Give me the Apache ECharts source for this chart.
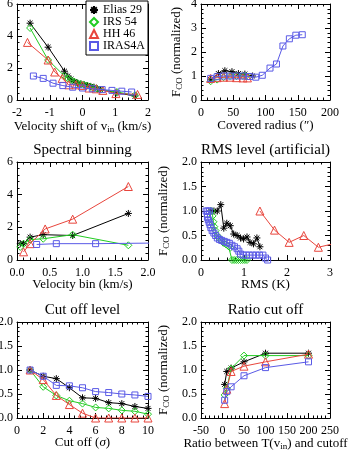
<!DOCTYPE html>
<html>
<head>
<meta charset="utf-8">
<script src="https://cdn.jsdelivr.net/npm/echarts@6/dist/echarts.min.js"></script>
<style>
html,body{margin:0;padding:0;background:#fff;}
#main{width:350px;height:450px;}
</style>
</head>
<body>
<div id="main"></div>
<script>
// sources, in legend order
const sourceNames = ['Elias 29', 'IRS 54', 'HH 46', 'IRAS4A'];

// panel 1: velocity shift of v_in
const shiftTicksX = ['-2', '-1', '0', '1', '2'];
const shiftTicksY = ['0', '2', '4', '6'];
const shiftElias = [[-1.6,4.8],[-1.05,3.3],[-0.55,1.8],[-0.45,1.5],[-0.35,1.3],[-0.25,1.15],[-0.15,1.05],[-0.05,1.0],[0.05,0.95],[0.15,0.9],[0.25,0.85],[0.35,0.8],[0.45,0.7],[0.55,0.65],[1.05,0.45],[1.6,0.25]];
const shiftIrs = [[-1.6,4.5],[-1.05,2.5],[-0.55,1.5],[-0.45,1.35],[-0.35,1.25],[-0.25,1.15],[-0.15,1.05],[-0.05,1.0],[0.05,0.95],[0.15,0.9],[0.25,0.82],[0.35,0.75],[0.45,0.7],[0.55,0.65],[1.05,0.5],[1.6,0.3]];
const shiftHh = [[-1.68,3.6],[-1.05,2.5],[-0.85,1.75],[-0.62,1.35],[-0.42,0.95],[-0.2,0.95],[0,0.9],[0.2,0.75],[0.42,0.7],[0.62,0.6],[1.02,0.4],[1.68,0.35]];
const shiftIras = [[-1.5,1.5],[-1.2,1.35],[-0.9,1.05],[-0.6,0.9],[-0.3,0.8],[0,0.75],[0.3,0.7],[0.6,0.65],[0.9,0.6],[1.2,0.55],[1.5,0.5]];

// panel 2: covered radius
const radiusTicksX = ['0', '50', '100', '150', '200'];
const radiusTicksY = ['0', '1', '2', '3', '4'];
const radiusElias = [[15,0.85],[27,1.1],[37,1.22],[48,1.18],[58,1.1],[68,1.08],[80,1.0]];
const radiusIrs = [[15,0.78],[25,0.85],[35,0.95],[45,1.0],[55,1.0],[65,1.0],[70,1.0]];
const radiusHh = [[15,0.9],[25,0.93],[35,0.95],[45,0.95],[55,0.93],[65,0.92],[72,0.92]];
const radiusIras = [[15,0.9],[25,0.97],[35,1.0],[45,1.0],[55,1.0],[65,1.0],[75,0.98],[85,0.95],[95,1.03],[107,1.33],[117,1.5],[127,2.25],[137,2.55],[147,2.7],[157,2.72]];

// panel 3: spectral binning
const binTicksX = ['0.0', '0.5', '1.0', '1.5', '2.0'];
const binTicksY = ['0', '2', '4', '6'];
const binElias = [[0.05,1.0],[0.1,1.0],[0.2,1.4],[0.4,1.55],[0.85,1.5],[1.7,2.85]];
const binIrs = [[0.05,0.8],[0.1,1.0],[0.2,1.25],[0.4,1.3],[0.85,1.55],[1.7,0.9]];
const binHh = [[0.1,0.5],[0.2,1.0],[0.43,1.9],[0.85,2.5],[1.7,4.5]];
const binIras = [[0.3,0.95],[0.6,1.0],[1.2,1.0],[2.4,1.05]];

// panel 4: RMS level
const rmsTicksX = ['0', '1', '2', '3'];
const rmsTicksY = ['0.0', '0.5', '1.0', '1.5', '2.0'];
const rmsElias = [[0.22,1.0],[0.3,1.0],[0.38,1.0],[0.46,1.13],[0.53,0.65],[0.6,0.75],[0.68,0.7],[0.76,0.53],[0.84,0.5],[0.92,0.45],[0.99,0.43],[1.07,0.47],[1.14,0.36],[1.22,0.33],[1.3,0.45],[1.37,0.27]];
const rmsIrs = [[0.25,1.0],[0.27,0.9],[0.29,0.78],[0.31,0.68],[0.34,0.6],[0.38,0.5],[0.42,0.45],[0.47,0.4],[0.52,0.35],[0.58,0.32],[0.64,0.28],[0.68,0.25],[0.72,0],[0.77,0],[0.82,0],[0.87,0],[0.92,0],[0.97,0],[1.02,0],[1.07,0]];
const rmsHh = [[1.37,1.0],[1.71,0.61],[2.05,0.36],[2.39,0.5],[2.73,0.26],[3.07,0.33]];
const rmsIras = [[0.12,1.0],[0.16,1.0],[0.2,1.0],[0.15,0.93],[0.15,0.87],[0.17,0.82],[0.19,0.77],[0.21,0.72],[0.23,0.66],[0.26,0.6],[0.3,0.55],[0.34,0.5],[0.38,0.45],[0.43,0.42],[0.48,0.4],[0.54,0.38],[0.6,0.36],[0.66,0.34],[0.72,0.3],[0.78,0.27],[0.84,0.23],[0.88,0.18],[0.92,0.12],[0.98,0.1],[1.05,0.1],[1.12,0.1],[1.2,0.1],[1.28,0.1],[1.36,0.1],[1.44,0.1],[1.5,0.04],[1.55,0]];

// panel 5: cut off level
const cutTicksX = ['0', '2', '4', '6', '8', '10'];
const cutTicksY = ['0.0', '0.5', '1.0', '1.5', '2.0'];
const cutElias = [[1,1.0],[2,0.87],[3,0.82],[4,0.63],[5,0.42],[6,0.41],[7,0.32],[8,0.3],[9,0.24],[10,0.2]];
const cutIrs = [[1,1.0],[2,0.65],[3,0.47],[4,0.36],[5,0.3],[6,0.22],[7,0.2],[8,0.16],[9,0.14],[10,0.08]];
const cutHh = [[1,1.0],[2,0.8],[3,0.47],[4,0.28],[5,0.1],[6,0],[7,0],[8,0],[9,0],[10,0]];
const cutIras = [[1,1.0],[2,0.87],[3,0.68],[4,0.67],[5,0.63],[6,0.55],[7,0.53],[8,0.5],[9,0.48],[10,0.45]];

// panel 6: ratio cut off
const ratioTicksX = ['-50', '0', '50', '100', '150', '200', '250'];
const ratioTicksY = ['0.0', '0.5', '1.0', '1.5', '2.0'];
const ratioElias = [[5,0.7],[10,0.97],[20,1.04],[50,1.17],[100,1.35],[200,1.35]];
const ratioIrs = [[5,0.48],[10,0.62],[20,1.03],[50,1.3],[100,1.3],[200,1.3]];
const ratioHh = [[5,0.3],[10,0.6],[20,0.97],[50,1.08],[100,1.17],[200,1.33]];
const ratioIras = [[5,0.37],[10,0.55],[20,0.65],[50,0.88],[100,1.05],[200,1.17]];

const serif = 'Liberation Serif';
const asterisk = 'path://M5 0L5 10M0 5L10 5M1.5 1.5L8.5 8.5M1.5 8.5L8.5 1.5';
const sourceStyle = [
    {symbol: asterisk, color: '#000', size: 7},
    {symbol: 'diamond', color: '#22cc22', size: 7},
    {symbol: 'triangle', color: '#e8453c', size: 8},
    {symbol: 'rect', color: '#5a5ae6', size: 6}
];
const nameRich = {
    sub: {fontFamily: serif, fontSize: 9, color: '#000', padding: [6, 0, 0, 0]},
    it: {fontFamily: serif, fontSize: 13, color: '#000', fontStyle: 'italic'}
};
const fcoName = 'F{sub|CO} (normalized)';

const colLeft = [17, 201], colWidth = [131, 129];
const rowTop = [4, 162, 322], rowHeight = [96, 98, 96];

const panels = [
    {tx: shiftTicksX, ty: shiftTicksY, xName: 'Velocity shift of v{sub|in} (km/s)', yGap: 17, xGap: 19, data: [shiftElias, shiftIrs, shiftHh, shiftIras]},
    {tx: radiusTicksX, ty: radiusTicksY, xName: 'Covered radius (\u2033)', yGap: 17, xGap: 19, data: [radiusElias, radiusIrs, radiusHh, radiusIras]},
    {tx: binTicksX, ty: binTicksY, xName: 'Velocity bin (km/s)', yGap: 17, xGap: 18, title: 'Spectral binning', data: [binElias, binIrs, binHh, binIras]},
    {tx: rmsTicksX, ty: rmsTicksY, xName: 'RMS (K)', yGap: 30, xGap: 18, title: 'RMS level (artificial)', data: [rmsElias, rmsIrs, rmsHh, rmsIras]},
    {tx: cutTicksX, ty: cutTicksY, xName: 'Cut off ({it|\u03c3})', yGap: 30, xGap: 18, title: 'Cut off level', data: [cutElias, cutIrs, cutHh, cutIras]},
    {tx: ratioTicksX, ty: ratioTicksY, xName: 'Ratio between T(v{sub|in}) and cutoff', yGap: 30, xGap: 18, title: 'Ratio cut off', data: [ratioElias, ratioIrs, ratioHh, ratioIras]}
];

function axisFrom(labels, gridIndex, position, showLabel) {
    let nums = labels.map(Number);
    return {
        type: 'value',
        gridIndex: gridIndex,
        position: position,
        min: nums[0],
        max: nums[nums.length - 1],
        interval: nums[1] - nums[0],
        axisLine: {show: true, onZero: false, lineStyle: {color: '#000', width: 1}},
        axisTick: {show: true, inside: true, length: 5, lineStyle: {color: '#000'}},
        minorTick: {show: true, splitNumber: 5, length: 2.5, lineStyle: {color: '#000'}},
        splitLine: {show: false},
        axisLabel: {
            show: showLabel,
            margin: position === 'left' ? 4 : 7,
            fontFamily: serif,
            fontSize: 12,
            color: '#000',
            showMinLabel: true,
            showMaxLabel: true,
            formatter: function (v) {
                let i = nums.findIndex(n => Math.abs(n - v) < 1e-9);
                return i < 0 ? '' : labels[i];
            }
        }
    };
}

let grids = [], xAxes = [], yAxes = [], series = [], titles = [];
panels.forEach(function (p, i) {
    let col = i % 2, row = Math.floor(i / 2);
    grids.push({left: colLeft[col], width: colWidth[col], top: rowTop[row], height: rowHeight[row], outerBoundsMode: 'none'});

    let xb = axisFrom(p.tx, i, 'bottom', true);
    xb.name = p.xName;
    xb.nameLocation = 'middle';
    xb.nameGap = p.xGap;
    xb.nameMoveOverlap = false;
    xb.nameTextStyle = {fontFamily: serif, fontSize: 13, color: '#000', rich: nameRich};
    xAxes.push(xb, axisFrom(p.tx, i, 'top', false));

    let yl = axisFrom(p.ty, i, 'left', true);
    yl.name = fcoName;
    yl.nameLocation = 'middle';
    yl.nameRotate = 90;
    yl.nameGap = p.yGap;
    yl.nameMoveOverlap = false;
    yl.nameTextStyle = {fontFamily: serif, fontSize: 13, color: '#000', rich: nameRich};
    yAxes.push(yl, axisFrom(p.ty, i, 'right', false));

    if (p.title) {
        titles.push({
            text: p.title,
            left: colLeft[col] + colWidth[col] / 2,
            textAlign: 'center',
            top: rowTop[row] - 19,
            padding: 0,
            textStyle: {fontFamily: serif, fontSize: 15, fontWeight: 'normal', color: '#000'}
        });
    }

    p.data.forEach(function (d, k) {
        let s = sourceStyle[k];
        series.push({
            name: sourceNames[k],
            type: 'line',
            xAxisIndex: 2 * i,
            yAxisIndex: 2 * i,
            data: d,
            symbol: s.symbol,
            symbolSize: s.size,
            clip: true,
            lineStyle: {color: s.color, width: 1},
            itemStyle: {color: 'rgba(255,255,255,0)', borderColor: s.color, borderWidth: 1},
            emphasis: {disabled: true},
            z: 2 + k
        });
    });
});

let myChart = echarts.init(document.getElementById('main'), null, {renderer: 'canvas'});
myChart.setOption({
    animation: false,
    backgroundColor: '#fff',
    title: titles,
    legend: {
        orient: 'vertical',
        left: 86,
        top: 1,
        padding: [3, 3],
        itemGap: 0,
        itemWidth: 8,
        itemHeight: 8,
        backgroundColor: '#fff',
        borderColor: '#000',
        borderWidth: 1,
        selectedMode: false,
        textStyle: {fontFamily: serif, fontSize: 12, color: '#000', lineHeight: 11},
        data: sourceNames.map((n, k) => ({name: n, icon: sourceStyle[k].symbol}))
    },
    grid: grids,
    xAxis: xAxes,
    yAxis: yAxes,
    series: series
});
</script>
</body>
</html>
